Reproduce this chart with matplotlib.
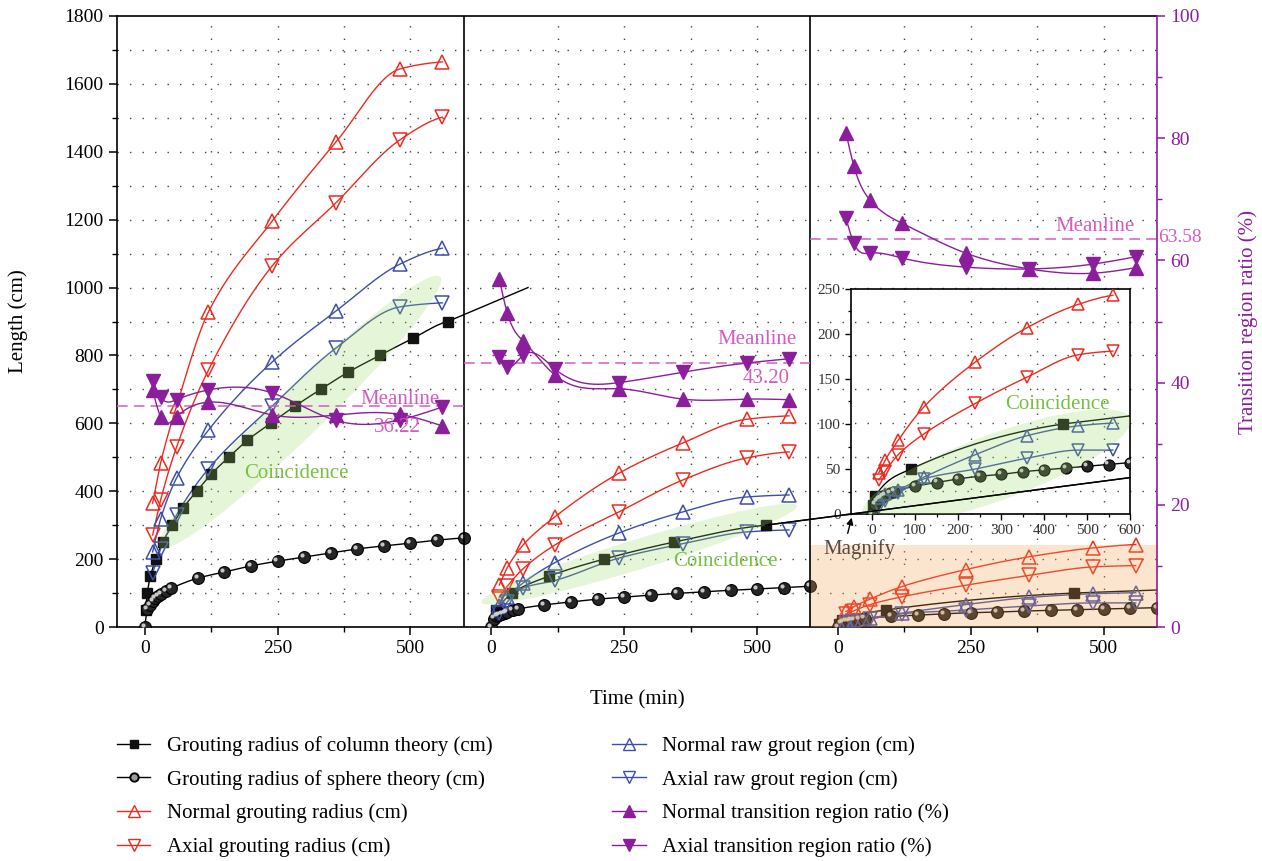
import numpy as np
import matplotlib
matplotlib.use("Agg")
import matplotlib.pyplot as plt
import matplotlib.transforms as mtransforms
from matplotlib.patches import Ellipse, Rectangle
from matplotlib.lines import Line2D

plt.rcParams['font.family'] = ['Liberation Serif', 'DejaVu Serif']

# sampling times (min)
t_obs = [15, 30, 60, 120, 240, 360, 480, 560]
t_sph = [0, 5, 10, 15, 20, 25, 30, 40, 50, 100, 150, 200, 250, 300, 350, 400, 450, 500, 550, 600]

# case 1
col1_t = [2, 5, 11, 21, 34, 52, 72, 98, 125, 158, 193, 237, 282, 331, 382, 442, 504, 570]
col1_r = [50, 100, 150, 200, 250, 300, 350, 400, 450, 500, 550, 600, 650, 700, 750, 800, 850, 900]
col1_end = (721, 1000)
sph1 = [0, 52, 66, 76, 84, 91, 96, 106, 114, 144, 162, 180, 194, 206, 218, 230, 239, 247, 256, 262]
nor1 = [365, 483, 650, 928, 1196, 1429, 1644, 1665]
axi1 = [271, 374, 530, 757, 1064, 1250, 1435, 1502]
nraw1 = [221, 318, 439, 580, 781, 931, 1069, 1116]
araw1 = [159, 230, 330, 466, 651, 822, 943, 955]
ntr1 = [38.8, 34.4, 34.4, 36.8, 34.7, 34.7, 34.8, 32.9]
atr1 = [40.2, 37.6, 37.2, 38.8, 38.3, 33.8, 33.9, 36.0]
mean1 = 36.22

# case 2
col2_t = [8, 39, 109, 212, 343, 516]
col2_r = [50, 100, 150, 200, 250, 300]
col2_end = (1201, 440)
sph2 = [0, 25, 31, 36, 39, 42, 45, 49, 53, 65, 74, 82, 88, 94, 99, 104, 108, 112, 116, 120]
nor2 = [124, 175, 242, 325, 453, 542, 612, 622]
axi2 = [88, 120, 172, 242, 339, 433, 498, 516]
nraw2 = [62, 88, 130, 190, 277, 339, 383, 389]
araw2 = [41, 74, 115, 137, 203, 245, 280, 286]
ntr2 = [57.0, 51.4, 46.8, 41.2, 39.0, 37.3, 37.3, 37.2]
atr2 = [44.2, 42.6, 44.5, 42.2, 40.0, 41.7, 43.2, 43.9]
mean2 = 43.20

# case 3
col3_t = [2, 7, 90, 444]
col3_r = [10, 20, 50, 100]
col3_end = (600, 109)
sph3 = [0, 11, 14, 17, 18, 20, 21, 23, 25, 31, 35, 39, 42, 44, 47, 49, 51, 53, 55, 57]
nor3 = [46, 60, 82, 119, 169, 207, 233, 243]
axi3 = [38, 48, 66, 89, 123, 152, 177, 181]
nraw3 = [18, 22, 27, 41, 66, 87, 98, 101]
araw3 = [8, 14, 23, 39, 50, 62, 71, 71]
ntr3 = [80.9, 75.4, 69.9, 66.1, 61.2, 58.6, 57.9, 58.8]
atr3 = [66.9, 62.8, 61.2, 60.4, 58.9, 58.6, 59.4, 60.6]
mean3 = 63.58

RED = '#ec2a1f'
BLUE = '#3c4fa6'
PURPLE = '#8a1e9b'
PINK = '#d45cc0'
GREEN_TXT = '#76c042'
GREEN_FILL = '#9bd860'
ORANGE_FILL = '#f5a04c'

PANEL = 652       # width of one case block on the shared time axis
X0 = -52


def spline(x, y, n=300):
    # natural cubic spline through the points
    x = np.asarray(x, float)
    y = np.asarray(y, float)
    h = np.diff(x)
    m = len(x)
    A = np.zeros((m, m))
    r = np.zeros(m)
    A[0, 0] = A[-1, -1] = 1.0
    for i in range(1, m - 1):
        A[i, i - 1:i + 2] = h[i - 1], 2 * (h[i - 1] + h[i]), h[i]
        r[i] = 3 * ((y[i + 1] - y[i]) / h[i] - (y[i] - y[i - 1]) / h[i - 1])
    c = np.linalg.solve(A, r)
    b = (y[1:] - y[:-1]) / h - h * (2 * c[:-1] + c[1:]) / 3
    d = (c[1:] - c[:-1]) / (3 * h)
    xs = np.linspace(x[0], x[-1], n)
    i = np.clip(np.searchsorted(x, xs) - 1, 0, m - 2)
    dx = xs - x[i]
    return xs, y[i] + b[i] * dx + c[i] * dx ** 2 + d[i] * dx ** 3


def pchip(x, y, n=300):
    # monotone cubic for the growth curves
    x = np.asarray(x, float)
    y = np.asarray(y, float)
    h = np.diff(x)
    s = np.diff(y) / h
    d = np.zeros_like(y)
    for k in range(1, len(x) - 1):
        if s[k - 1] * s[k] > 0:
            w1 = 2 * h[k] + h[k - 1]
            w2 = h[k] + 2 * h[k - 1]
            d[k] = (w1 + w2) / (w1 / s[k - 1] + w2 / s[k])
    d[0] = s[0]
    d[-1] = s[-1] * 0.5
    xs = np.linspace(x[0], x[-1], n)
    i = np.clip(np.searchsorted(x, xs) - 1, 0, len(x) - 2)
    u = (xs - x[i]) / h[i]
    h00 = 2 * u ** 3 - 3 * u ** 2 + 1
    h10 = u ** 3 - 2 * u ** 2 + u
    h01 = -2 * u ** 3 + 3 * u ** 2
    h11 = u ** 3 - u ** 2
    return xs, h00 * y[i] + h10 * h[i] * d[i] + h01 * y[i + 1] + h11 * h[i] * d[i + 1]


fig = plt.figure(figsize=(12.62, 8.61), dpi=100)
ax = fig.add_axes([117 / 1262, 1 - 627 / 861, 1040 / 1262, 611 / 861])
axr = ax.twinx()
axr.set_facecolor('none')

sphere_shift = mtransforms.ScaledTranslation(-1.5 / 72, 1.5 / 72, fig.dpi_scale_trans)


def growth(a, off, t, v, color, marker, ms, mfc='none', z=3):
    xs, ys = pchip(t, v)
    a.plot(xs + off, ys, color=color, lw=1.0, zorder=z - 1)
    a.plot(np.asarray(t) + off, v, ls='none', marker=marker, ms=ms, mfc=mfc,
           mec=color, mew=1.1, zorder=z)


def spheres(a, off, t, v, ms):
    xs, ys = pchip(t, v)
    a.plot(xs + off, ys, color='k', lw=1.0, zorder=2)
    a.plot(np.asarray(t) + off, v, ls='none', marker='o', ms=ms, mfc='#262626',
           mec='k', mew=0.8, zorder=3)
    a.plot(np.asarray(t) + off, v, ls='none', marker='o', ms=ms * 0.35, mfc='#d9d9d9',
           mec='none', alpha=0.9, zorder=3.1, transform=a.transData + sphere_shift)


def column(a, off, t, r, end, ms):
    xs, ys = pchip(t, r)
    a.plot(xs + off, ys, color='k', lw=1.0, zorder=2)
    a.plot([t[-1] + off, end[0] + off], [r[-1], end[1]], color='k', lw=1.0, zorder=2)
    a.plot(np.asarray(t) + off, r, ls='none', marker='s', ms=ms, color='#111111', zorder=3)


def blob(a, cx, cy, w, h, angle):
    tr = (mtransforms.Affine2D().rotate_deg(angle) + fig.dpi_scale_trans
          + mtransforms.ScaledTranslation(cx, cy, a.transData))
    a.add_patch(Ellipse((0, 0), w, h, facecolor=GREEN_FILL, alpha=0.25, lw=0,
                        transform=tr, zorder=4))


cases = [
    (col1_t, col1_r, col1_end, sph1, nor1, axi1, nraw1, araw1, ntr1, atr1, mean1),
    (col2_t, col2_r, col2_end, sph2, nor2, axi2, nraw2, araw2, ntr2, atr2, mean2),
    (col3_t, col3_r, col3_end, sph3, nor3, axi3, nraw3, araw3, ntr3, atr3, mean3),
]

dot = (0, (1, 8))
for k in range(3):
    for g in [125, 250, 375, 500]:
        ax.axvline(k * PANEL + g, color='#444444', lw=1.0, ls=dot, zorder=0.5)
for g in range(100, 1800, 100):
    ax.axhline(g, color='#444444', lw=1.0, ls=dot, zorder=0.5)

for k, (ct, cr, cend, sph, nor, axi, nraw, araw, ntr, atr, mean) in enumerate(cases):
    off = k * PANEL
    column(ax, off, ct, cr, cend, 7)
    spheres(ax, off, t_sph, sph, 8.5)
    growth(ax, off, t_obs, nor, RED, '^', 10)
    growth(ax, off, t_obs, axi, RED, 'v', 10)
    growth(ax, off, t_obs, nraw, BLUE, '^', 10)
    growth(ax, off, t_obs, araw, BLUE, 'v', 10)

    xs, ys = spline(t_obs, ntr)
    axr.plot(xs + off, ys, color=PURPLE, lw=1.0, zorder=2)
    axr.plot(np.asarray(t_obs) + off, ntr, ls='none', marker='^', ms=10, color=PURPLE, zorder=3)
    xs, ys = spline(t_obs, atr)
    axr.plot(xs + off, ys, color=PURPLE, lw=1.0, zorder=2)
    axr.plot(np.asarray(t_obs) + off, atr, ls='none', marker='v', ms=10, color=PURPLE, zorder=3)
    axr.plot([off + X0, off + X0 + PANEL], [mean, mean], color=PINK, lw=1.1,
             dashes=(7, 4), zorder=1.5)

# panel dividers
for k in (1, 2):
    ax.axvline(k * PANEL + X0, color='k', lw=1.2, zorder=5)

# meanline labels
axr.text(555, 37.3, 'Meanline', color=PINK, fontsize=15, ha='right', va='center')
axr.text(475, 32.6, '36.22', color=PINK, fontsize=15, ha='center', va='center')
axr.text(PANEL + 575, 47.0, 'Meanline', color=PINK, fontsize=15, ha='right', va='center')
axr.text(PANEL + 517, 40.6, '43.20', color=PINK, fontsize=15, ha='center', va='center')
axr.text(2 * PANEL + 558, 65.6, 'Meanline', color=PINK, fontsize=15, ha='right', va='center')
axr.text(2 * PANEL + 602, 63.8, '63.58', color=PINK, fontsize=14, ha='left', va='center',
         clip_on=False)

# coincidence bands
blob(ax, 292, 633, 3.9, 0.48, 44)
blob(ax, PANEL + 278, 215, 3.3, 0.30, 17)
ax.text(285, 451, 'Coincidence', color=GREEN_TXT, fontsize=15, ha='center', va='center', zorder=5)
ax.text(PANEL + 441, 192, 'Coincidence', color=GREEN_TXT, fontsize=15, ha='center', va='center', zorder=5)

# magnified region of case 3
ax.add_patch(Rectangle((2 * PANEL + X0, 0), PANEL, 243, facecolor=ORANGE_FILL, alpha=0.27,
                       lw=0, zorder=4))
ax.text(2 * PANEL + 41, 230, 'Magnify', color='#5b4a3f', fontsize=15, ha='center',
        va='center', zorder=5)
ax.annotate('', xy=(2 * PANEL + 27, 330), xytext=(2 * PANEL + 17, 268),
            arrowprops=dict(arrowstyle='-|>', color='k', lw=1.0, mutation_scale=10), zorder=5)

# axes styling
ax.set_xlim(X0, X0 + 3 * PANEL)
ax.set_ylim(0, 1800)
axr.set_ylim(0, 100)
major = [k * PANEL + t for k in range(3) for t in (0, 250, 500)]
ax.set_xticks(major)
ax.set_xticklabels(['0', '250', '500'] * 3)
ax.set_xticks([k * PANEL + t for k in range(3) for t in (125, 375)], minor=True)
ax.set_yticks(range(0, 1801, 200))
ax.set_yticks(range(100, 1800, 200), minor=True)
ax.tick_params(which='major', direction='out', length=6, width=1.1, labelsize=14, top=False, right=False)
ax.tick_params(which='minor', direction='out', length=3.5, width=1.0, top=False, right=False)
ax.spines['right'].set_visible(False)
for s in ('left', 'top', 'bottom'):
    ax.spines[s].set_linewidth(1.2)

axr.set_yticks(range(0, 101, 20))
axr.set_yticks(range(10, 100, 20), minor=True)
axr.tick_params(which='major', direction='out', length=6, width=1.1, labelsize=14,
                colors=PURPLE)
axr.tick_params(which='minor', direction='out', length=3.5, width=1.0, colors=PURPLE)
axr.spines['right'].set_color(PURPLE)
axr.spines['right'].set_linewidth(1.2)
for s in ('left', 'top', 'bottom'):
    axr.spines[s].set_visible(False)

ax.set_ylabel('Length (cm)', fontsize=15, labelpad=26)
ax.set_xlabel('Time (min)', fontsize=15, labelpad=24)
axr.set_ylabel('Transition region ratio (%)', fontsize=15, color=PURPLE, labelpad=28)

# inset: case 3 on a finer length scale
ins = fig.add_axes([851 / 1262, 1 - 514 / 861, 279 / 1262, 225 / 861])
ins.set_zorder(5)
ins.set_facecolor('none')
column(ins, 0, col3_t, col3_r, col3_end, 6.5)
spheres(ins, 0, t_sph, sph3, 8)
growth(ins, 0, t_obs, nor3, RED, '^', 9)
growth(ins, 0, t_obs, axi3, RED, 'v', 9)
growth(ins, 0, t_obs, nraw3, BLUE, '^', 9)
growth(ins, 0, t_obs, araw3, BLUE, 'v', 9)
blob(ins, 288, 52, 2.85, 0.66, 20)
ins.text(430, 122, 'Coincidence', color=GREEN_TXT, fontsize=15, ha='center', va='center', zorder=5)
# case 2 column extension passes over the inset
ins.plot([col2_t[-1] + PANEL, col2_end[0] + PANEL], [col2_r[-1], col2_end[1]], color='k',
         lw=1.0, transform=ax.transData, clip_on=False, zorder=6)
ins.set_xlim(-50, 600)
ins.set_ylim(0, 250)
ins.set_xticks(range(0, 601, 100))
ins.set_xticks(range(50, 600, 100), minor=True)
ins.set_yticks(range(0, 251, 50))
ins.set_yticks(range(25, 250, 50), minor=True)
ins.tick_params(which='major', direction='out', length=4, width=1.0, labelsize=11,
                labelcolor='#333333')
ins.tick_params(which='minor', direction='out', length=2.5, width=0.9)
for s in ins.spines.values():
    s.set_linewidth(1.2)

# legend
handles = [
    Line2D([], [], color='k', lw=1.0, marker='s', ms=6, mfc='#111111', mec='#111111'),
    Line2D([], [], color='k', lw=1.0, marker='o', ms=6, mfc='#9a9a9a', mec='k', mew=1.4),
    Line2D([], [], color=RED, lw=1.0, marker='^', ms=8, mfc='none', mec=RED),
    Line2D([], [], color=RED, lw=1.0, marker='v', ms=8, mfc='none', mec=RED),
    Line2D([], [], color=BLUE, lw=1.0, marker='^', ms=8, mfc='none', mec=BLUE),
    Line2D([], [], color=BLUE, lw=1.0, marker='v', ms=8, mfc='none', mec=BLUE),
    Line2D([], [], color=PURPLE, lw=1.0, marker='^', ms=8, mfc=PURPLE, mec=PURPLE),
    Line2D([], [], color=PURPLE, lw=1.0, marker='v', ms=8, mfc=PURPLE, mec=PURPLE),
]
labels = [
    'Grouting radius of column theory (cm)',
    'Grouting radius of sphere theory (cm)',
    'Normal grouting radius (cm)',
    'Axial grouting radius (cm)',
    'Normal raw grout region (cm)',
    'Axial raw grout region (cm)',
    'Normal transition region ratio (%)',
    'Axial transition region ratio (%)',
]
fig.legend(handles, labels, loc='upper left', bbox_to_anchor=(117 / 1262, 1 - 736 / 861),
           ncol=2, frameon=False, fontsize=15, handlelength=1.6, handletextpad=0.8,
           columnspacing=5.75, labelspacing=0.67, borderpad=0, borderaxespad=0)

fig.savefig('out.png', dpi=100)
